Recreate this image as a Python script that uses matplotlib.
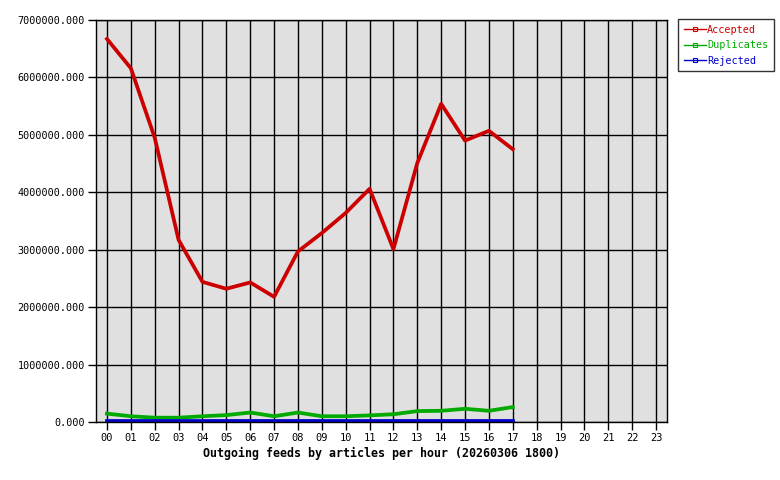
import numpy as np
import matplotlib.pyplot as plt

hours = ["%02d" % h for h in range(24)]
accepted = [6.67e6, 6.16e6, 4.95e6, 3.17e6, 2.44e6, 2.32e6, 2.43e6, 2.18e6, 2.97e6,
            3.29e6, 3.64e6, 4.06e6, 3.01e6, 4.51e6, 5.54e6, 4.90e6, 5.07e6, 4.75e6]
duplicates = [146e3, 100e3, 75e3, 75e3, 100e3, 120e3, 165e3, 100e3, 165e3,
              100e3, 100e3, 115e3, 135e3, 190e3, 195e3, 230e3, 195e3, 260e3]
rejected = [15e3] * 18

plt.rcParams['font.family'] = ['DejaVu Sans Mono']

fig = plt.figure(figsize=(7.8, 4.8), dpi=100)
ax = fig.add_axes([96 / 780, 58 / 480, 571 / 780, 402 / 480])
ax.set_facecolor('#e0e0e0')

x = np.arange(len(accepted))
ax.plot(x, accepted, color='#cc0000', lw=2.7, label='Accepted')
ax.plot(x, duplicates, color='#00aa00', lw=2.7, label='Duplicates')
ax.plot(x, rejected, color='#0000cc', lw=2.7, label='Rejected')

ax.set_xlim(-0.46, 23.46)
ax.set_ylim(0, 7e6)
ax.set_xticks(range(24))
ax.set_xticklabels(hours, fontsize=7.5)
ax.set_yticks(np.arange(0, 7.5e6, 1e6))
ax.set_yticklabels(["%.3f" % v for v in np.arange(0, 7.5e6, 1e6)], fontsize=7.3)
ax.grid(True, color='black', lw=1)
ax.set_axisbelow(True)
ax.tick_params(length=6, width=1, color='black', pad=2)
for s in ax.spines.values():
    s.set_linewidth(1)

ax.set_xlabel('Outgoing feeds by articles per hour (20260306 1800)',
              fontsize=8.4, fontweight='bold', labelpad=3)

handles = [plt.Line2D([], [], color=c, lw=1, marker='s', markersize=3,
                      markerfacecolor='none', markeredgewidth=0.8)
           for c in ['#cc0000', '#00aa00', '#0000cc']]
leg = fig.legend(handles, ['Accepted', 'Duplicates', 'Rejected'],
                 loc='upper left', bbox_to_anchor=(678 / 780, 1 - 19 / 480),
                 fontsize=7.3, frameon=True, fancybox=False, edgecolor='black',
                 handlelength=2.2, handletextpad=0.1, borderpad=0.55,
                 labelspacing=0.55, borderaxespad=0)
leg.get_frame().set_linewidth(1)
for t, c in zip(leg.get_texts(), ['#cc0000', '#00aa00', '#0000cc']):
    t.set_color(c)

fig.savefig('out.png', dpi=100)
